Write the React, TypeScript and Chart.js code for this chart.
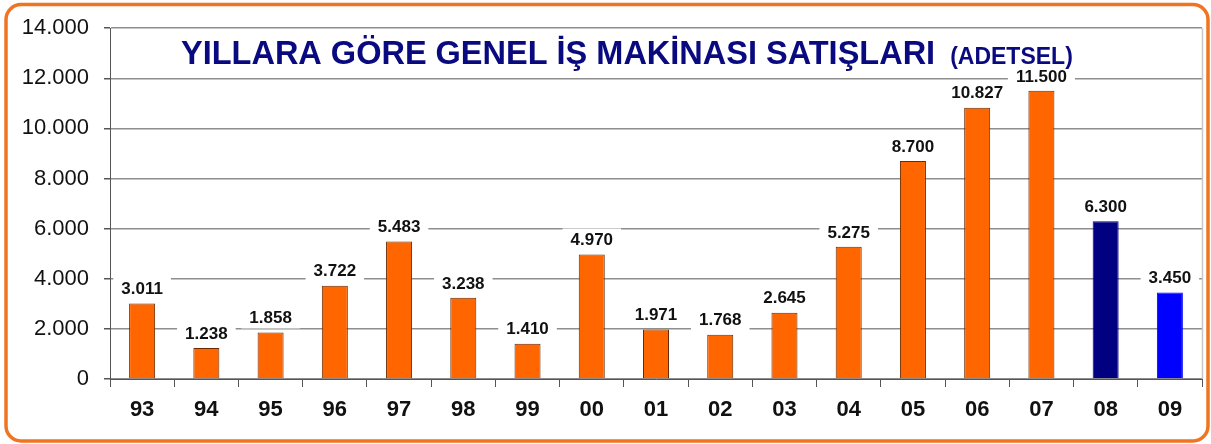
import React, { useEffect, useRef } from "react";
import { Chart, registerables } from "chart.js";

Chart.register(...registerables);

const years = ["93", "94", "95", "96", "97", "98", "99", "00", "01", "02", "03", "04", "05", "06", "07", "08", "09"];
const sales = [3011, 1238, 1858, 3722, 5483, 3238, 1410, 4970, 1971, 1768, 2645, 5275, 8700, 10827, 11500, 6300, 3450];
const barColors = ["#ff6600", "#ff6600", "#ff6600", "#ff6600", "#ff6600", "#ff6600", "#ff6600", "#ff6600", "#ff6600", "#ff6600", "#ff6600", "#ff6600", "#ff6600", "#ff6600", "#ff6600", "#000080", "#0000ff"];
const barBorders = ["#6b2a00", "#6b2a00", "#6b2a00", "#6b2a00", "#6b2a00", "#6b2a00", "#6b2a00", "#6b2a00", "#6b2a00", "#6b2a00", "#6b2a00", "#6b2a00", "#6b2a00", "#6b2a00", "#6b2a00", "#000080", "#0000ff"];
const titleMain = "YILLARA GÖRE GENEL İŞ MAKİNASI SATIŞLARI";
const titleSub = "(ADETSEL)";

const fmt = (v: number) => {
  const s = Math.round(v).toString();
  return s.replace(/\B(?=(\d{3})+(?!\d))/g, ".");
};

const FONT = "'Liberation Sans', Arial, sans-serif";

const framePlugin = {
  id: "frame",
  beforeDraw(chart: any) {
    const ctx = chart.ctx;
    ctx.save();
    ctx.fillStyle = "#ffffff";
    ctx.fillRect(0, 0, chart.width, chart.height);
    ctx.restore();
  },
  beforeDatasetsDraw(chart: any) {
    const ctx = chart.ctx;
    const a = chart.chartArea;
    ctx.save();
    ctx.strokeStyle = "#c8c8c8";
    ctx.lineWidth = 1.5;
    ctx.beginPath();
    ctx.moveTo(a.right + 0.5, a.top);
    ctx.lineTo(a.right + 0.5, a.bottom);
    ctx.stroke();
    ctx.restore();
  },
  afterDraw(chart: any) {
    const ctx = chart.ctx;
    ctx.save();
    ctx.strokeStyle = "#f07522";
    ctx.lineWidth = 3.5;
    ctx.beginPath();
    ctx.roundRect(6, 4.5, chart.width - 9, chart.height - 7.5, 15);
    ctx.stroke();
    ctx.restore();
  },
};

const labelPlugin = {
  id: "valueLabels",
  afterDatasetsDraw(chart: any) {
    const ctx = chart.ctx;
    const meta = chart.getDatasetMeta(0);
    const area = chart.chartArea;
    ctx.save();
    ctx.font = `bold 17px ${FONT}`;
    ctx.textAlign = "center";
    ctx.textBaseline = "middle";
    meta.data.forEach((bar: any, i: number) => {
      const txt = fmt(sales[i]);
      const cy = bar.y - 15;
      const w = ctx.measureText(txt).width + 16;
      ctx.fillStyle = "#ffffff";
      ctx.fillRect(bar.x - w / 2, cy - 11, w, 22);
      ctx.fillStyle = "#111111";
      ctx.fillText(txt, bar.x, cy + 1);
    });
    // title
    ctx.textAlign = "left";
    ctx.textBaseline = "alphabetic";
    ctx.fillStyle = "#0a0a80";
    ctx.font = `bold 32.5px ${FONT}`;
    const x0 = area.left + 71;
    const by = area.top + 36;
    ctx.fillText(titleMain, x0, by);
    const mw = ctx.measureText(titleMain).width;
    ctx.font = `bold 23px ${FONT}`;
    ctx.fillText(titleSub, x0 + mw + 15, by);
    ctx.restore();
  },
};

export default function App() {
  const ref = useRef<HTMLCanvasElement>(null);
  useEffect(() => {
    if (!ref.current) return;
    const chart = new Chart(ref.current, {
      type: "bar",
      data: {
        labels: years,
        datasets: [
          {
            data: sales,
            backgroundColor: barColors,
            borderColor: barBorders,
            borderWidth: 1,
            barPercentage: 0.405,
            categoryPercentage: 1,
          },
        ],
      },
      options: {
        animation: false,
        responsive: false,
        maintainAspectRatio: false,
        layout: { padding: { top: 28, right: 9, left: 0, bottom: 0 } },
        plugins: { legend: { display: false }, tooltip: { enabled: false }, title: { display: false } },
        scales: {
          x: {
            grid: { display: true, drawOnChartArea: false, offset: true, tickLength: 8, color: "#555", lineWidth: 1 },
            border: { color: "#555", width: 1 },
            ticks: { color: "#111", font: { family: FONT, size: 22, weight: "bold" }, padding: 10 },
            afterFit: (s: any) => {
              s.height = 65;
            },
          },
          y: {
            min: 0,
            max: 14000,
            ticks: {
              stepSize: 2000,
              color: "#111",
              padding: 15,
              font: { family: FONT, size: 22 },
              callback: (v: any) => fmt(Number(v)),
            },
            grid: { color: "#8e8e8e", lineWidth: 1.5, tickLength: 6, tickColor: "#555" },
            border: { color: "#555", width: 1 },
            afterFit: (s: any) => {
              s.width = 110;
            },
          },
        },
      },
      plugins: [framePlugin, labelPlugin],
    });
    return () => chart.destroy();
  }, []);
  return (
    <div style={{ position: "fixed", left: 0, top: 0, width: 1211, height: 444 }}>
      <canvas ref={ref} width={1211} height={444} style={{ display: "block", width: 1211, height: 444 }} />
    </div>
  );
}
